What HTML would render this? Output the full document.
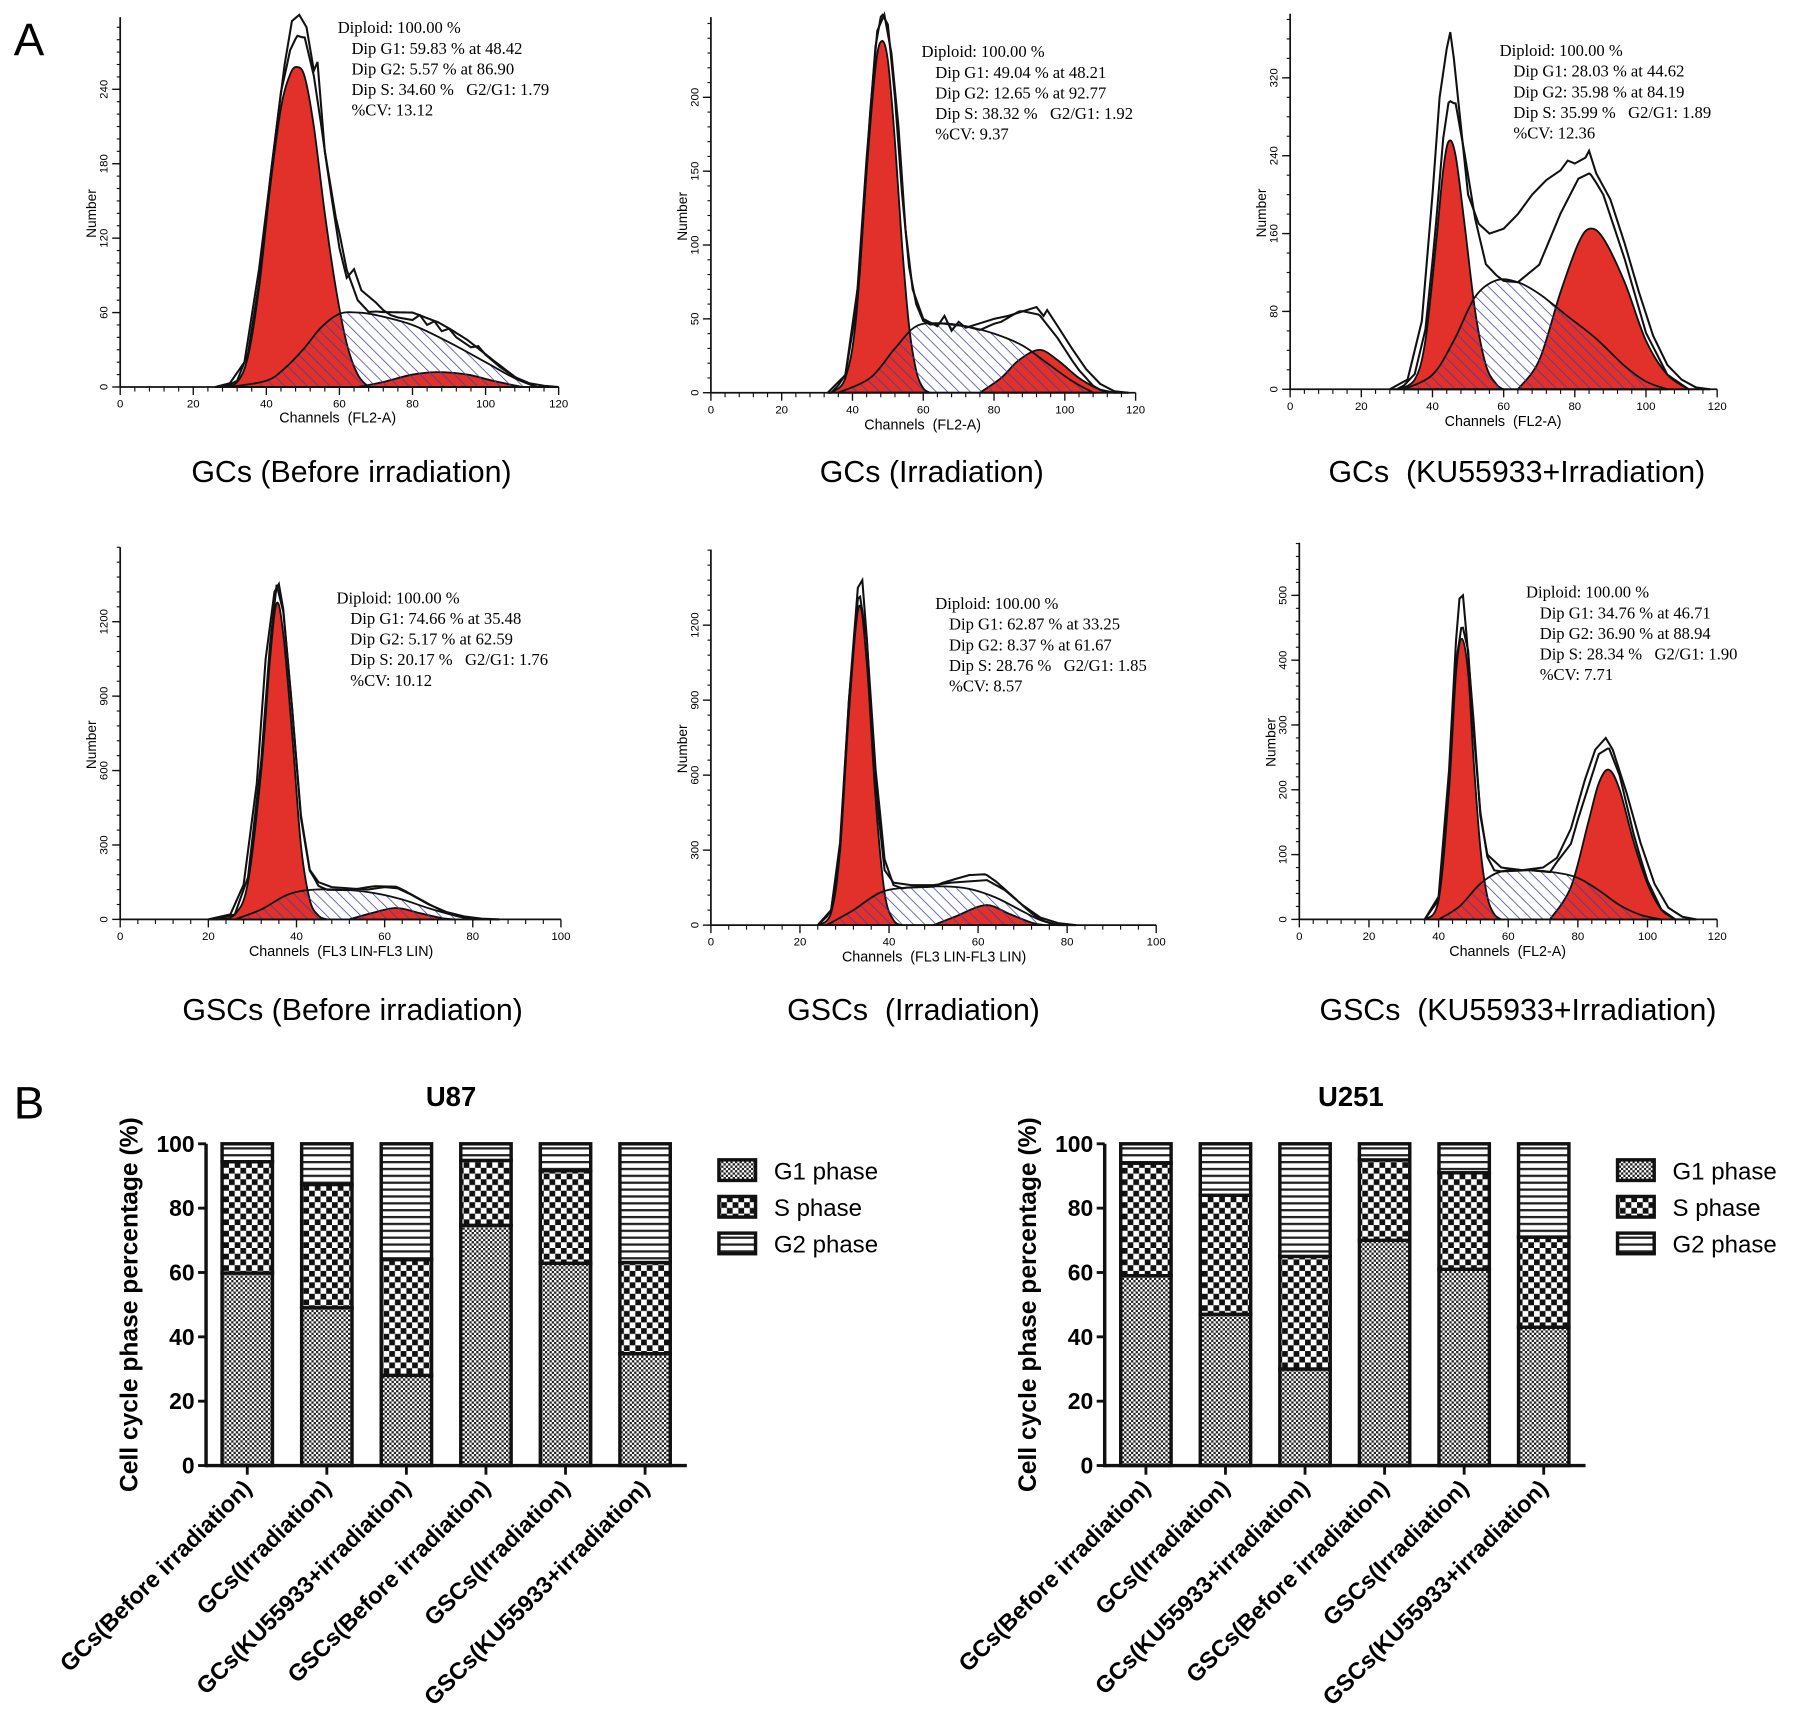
<!DOCTYPE html>
<html><head><meta charset="utf-8"><style>
html,body{margin:0;padding:0;background:#fff;}
svg{display:block;}
.pre{white-space:pre;}
</style></head><body>
<svg id="fig" width="1795" height="1722" viewBox="0 0 1568 1504" preserveAspectRatio="none" xmlns="http://www.w3.org/2000/svg">
<defs>
<pattern id="hatch" patternUnits="userSpaceOnUse" width="7" height="7" patternTransform="rotate(-45)">
<line x1="0" y1="0" x2="0" y2="7" stroke="#3d3f9c" stroke-width="1.3"/></pattern>
<pattern id="pG1" patternUnits="userSpaceOnUse" width="4" height="4">
<rect width="4" height="4" fill="#fff"/><rect width="2" height="2" fill="#222"/><rect x="2" y="2" width="2" height="2" fill="#222"/></pattern>
<pattern id="pS" patternUnits="userSpaceOnUse" width="10" height="10">
<rect width="10" height="10" fill="#fff"/><rect width="5" height="5" fill="#111"/><rect x="5" y="5" width="5" height="5" fill="#111"/></pattern>
<pattern id="pG2" patternUnits="userSpaceOnUse" width="6" height="6">
<rect width="6" height="6" fill="#fff"/><rect y="0" width="6" height="2" fill="#222"/></pattern>
</defs>
<text x="12" y="48" font-family="Liberation Sans, sans-serif" font-size="40">A</text>
<text x="12" y="977" font-family="Liberation Sans, sans-serif" font-size="40">B</text>
<g id="hists"></g>
<g id="bars"></g>
</svg>
<script>
// ---------- Histogram data (channel, count) ----------
const h1G1=[[28,0],[32,4],[35,25],[38,80],[41,160],[44,225],[46.5,252],[48.4,258],[50.5,250],[53,210],[56,140],[59,80],[62,35],[65,10],[68,0]];
const h1S=[[30,0],[40,5],[45,15],[50,30],[55,48],[60,59],[65,60],[70,58],[80,50],[90,36],[100,20],[108,7],[114,0]];
const h1G2=[[65,0],[72,4],[80,10],[87,12],[95,10],[102,5],[110,0]];
const h1Data=[[26,0],[30,3],[34,20],[38,95],[42,190],[45,260],[47,295],[49,300],[51,290],[53,255],[54,262],[56,190],[58,150],[60,112],[62,88],[64,95],[66,78],[70,68],[72,62],[74,58],[76,56],[80,54],[82,58],[84,50],[86,53],[88,45],[90,47],[92,40],[96,32],[98,33],[100,26],[104,16],[108,8],[112,3],[116,1],[120,0]];

const h2G1=[[34,0],[38,10],[41,50],[44,150],[46.5,220],[48.2,238],[50,225],[52,170],[54,100],[56,45],[58,15],[60,3],[62,0]];
const h2S=[[36,0],[45,10],[52,30],[58,45],[65,47],[72,45],[80,40],[88,32],[95,20],[102,8],[108,0]];
const h2G2=[[76,0],[82,10],[87,22],[92.8,29],[98,22],[104,10],[110,2],[114,0]];
const h2Data=[[33,0],[38,12],[42,80],[45,190],[47,245],[49,256],[51,230],[53,180],[55,110],[57,70],[60,50],[64,45],[66,52],[68,42],[70,48],[72,44],[76,47],[80,50],[84,52],[88,55],[92,58],[94,52],[95,56],[98,45],[102,30],[106,16],[110,6],[114,1],[118,0]];

const h3G1=[[30,0],[35,10],[38,50],[41,150],[43,225],[44.6,255],[46.5,240],[49,170],[52,80],[55,25],[58,5],[60,0]];
const h3S=[[32,0],[40,15],[46,50],[52,95],[58,112],[64,110],[70,98],[78,75],[86,52],[94,24],[100,8],[106,0]];
const h3G2=[[64,0],[70,30],[76,100],[81,150],[84.2,165],[88,155],[94,110],[100,50],[106,15],[112,0]];
const h3Data=[[28,0],[33,10],[37,70],[40,200],[42,300],[44,350],[45,367],[46,340],[48,270],[50,200],[53,170],[56,160],[60,165],[64,180],[68,200],[72,215],[76,225],[78,235],[80,232],[83,238],[84,245],[86,222],[90,195],[94,150],[98,100],[102,55],[106,25],[110,10],[114,2],[118,0]];

const h4G1=[[22,0],[26,20],[29,150],[32,600],[34,1050],[35.5,1274],[37,1150],[39,750],[41,300],[43,80],[45,15],[47,0]];
const h4S=[[26,0],[32,40],[38,100],[44,120],[52,118],[58,105],[64,80],[70,45],[76,15],[80,0]];
const h4G2=[[52,0],[57,25],[62.6,46],[68,25],[73,5],[76,0]];
const h4Data=[[20,0],[25,20],[28,140],[31,550],[33,1050],[35,1320],[36,1352],[37,1250],[39,850],[41,420],[43,200],[45,150],[48,130],[52,125],[56,120],[60,130],[63,125],[66,100],[70,60],[74,30],[78,12],[82,3],[86,0]];

const h5G1=[[24,0],[27,50],[29,300],[31,850],[33.2,1273],[35,1050],[37,500],[39,130],[41,20],[43,0]];
const h5S=[[26,0],[32,60],[38,130],[44,150],[52,155],[58,145],[64,110],[70,55],[74,20],[78,0]];
const h5G2=[[50,0],[55,35],[61.7,80],[67,45],[72,10],[75,0]];
const h5Data=[[24,0],[27,60],[29,300],[31,900],[33,1350],[34,1380],[35,1150],[37,550],[39,220],[41,170],[45,160],[50,160],[54,170],[58,175],[62,180],[66,140],[70,80],[74,30],[78,8],[82,0]];

const h6G1=[[36,0],[40,30],[43,200],[45,380],[46.7,433],[48.5,380],[50,250],[52,110],[54,35],[56,8],[58,0]];
const h6S=[[40,0],[46,20],[52,55],[58,74],[66,76],[74,72],[80,64],[86,45],[92,22],[98,7],[104,0]];
const h6G2=[[72,0],[78,50],[83,150],[86,210],[88.9,231],[92,200],[96,120],[100,55],[104,15],[108,0]];
const h6Data=[[36,0],[40,35],[43,230],[45,430],[46,495],[47,500],[48,440],[50,310],[52,160],[54,100],[58,80],[64,76],[70,80],[74,95],[78,140],[82,215],[85,262],[88,280],[90,262],[94,195],[98,118],[102,55],[106,18],[110,4],[114,0]];

const h1Stats=["Diploid: 100.00 %","Dip G1: 59.83 % at 48.42","Dip G2: 5.57 % at 86.90","Dip S: 34.60 %   G2/G1: 1.79","%CV: 13.12"];
const h2Stats=["Diploid: 100.00 %","Dip G1: 49.04 % at 48.21","Dip G2: 12.65 % at 92.77","Dip S: 38.32 %   G2/G1: 1.92","%CV: 9.37"];
const h3Stats=["Diploid: 100.00 %","Dip G1: 28.03 % at 44.62","Dip G2: 35.98 % at 84.19","Dip S: 35.99 %   G2/G1: 1.89","%CV: 12.36"];
const h4Stats=["Diploid: 100.00 %","Dip G1: 74.66 % at 35.48","Dip G2: 5.17 % at 62.59","Dip S: 20.17 %   G2/G1: 1.76","%CV: 10.12"];
const h5Stats=["Diploid: 100.00 %","Dip G1: 62.87 % at 33.25","Dip G2: 8.37 % at 61.67","Dip S: 28.76 %   G2/G1: 1.85","%CV: 8.57"];
const h6Stats=["Diploid: 100.00 %","Dip G1: 34.76 % at 46.71","Dip G2: 36.90 % at 88.94","Dip S: 28.34 %   G2/G1: 1.90","%CV: 7.71"];

// ---------- Bar chart data ----------
const barCategories=["GCs(Before irradiation)","GCs(Irradiation)","GCs(KU55933+irradiation)","GSCs(Before irradiation)","GSCs(Irradiation)","GSCs(KU55933+irradiation)"];
const u87G1=[59.83,49.04,28.03,74.66,62.87,34.76];
const u87S=[34.60,38.32,35.99,20.17,28.76,28.34];
const u87G2=[5.57,12.64,35.98,5.17,8.37,36.90];
const u251G1=[59,47,30,70,61,43];
const u251S=[35,37,35,25,30,28];
const u251G2=[6,16,35,5,9,29];
const barYTicks=[0,20,40,60,80,100];
const legendLabels=["G1 phase","S phase","G2 phase"];

const NS="http://www.w3.org/2000/svg";
function mk(tag,attrs,parent){const e=document.createElementNS(NS,tag);for(const k in attrs)e.setAttribute(k,attrs[k]);if(parent)parent.appendChild(e);return e;}
function interp(arr,x){if(x<=arr[0][0]||x>=arr[arr.length-1][0])return 0;for(let i=1;i<arr.length;i++){if(x<=arr[i][0]){const a=arr[i-1],b=arr[i];return a[1]+(b[1]-a[1])*(x-a[0])/(b[0]-a[0]);}}return 0;}
function smoothPath(pts){let d="M"+pts[0][0]+","+pts[0][1];for(let i=0;i<pts.length-1;i++){const p0=pts[i-1]||pts[i],p1=pts[i],p2=pts[i+1],p3=pts[i+2]||p2;const c1x=p1[0]+(p2[0]-p0[0])/6,c1y=p1[1]+(p2[1]-p0[1])/6,c2x=p2[0]-(p3[0]-p1[0])/6,c2y=p2[1]-(p3[1]-p1[1])/6;d+=" C"+c1x+","+c1y+" "+c2x+","+c2y+" "+p2[0]+","+p2[1];}return d;}

const panels=[
 {g1:h1G1,s:h1S,g2:h1G2,data:h1Data,stats:h1Stats,x0:105,x1:488,xmax:120,yb:338,top:15,ppu:65/60,yt:[0,60,120,180,240],ydiv:6,xlab:"Channels  (FL2-A)",xlx:295,xly:369,sx:295,sy:29,title:"GCs (Before irradiation)",tx:307,ty:421,name:"gcs-before"},
 {g1:h2G1,s:h2S,g2:h2G2,data:h2Data,stats:h2Stats,x0:621,x1:992,xmax:120,yb:343,top:15,ppu:64.5/50,yt:[0,50,100,150,200],ydiv:5,xlab:"Channels  (FL2-A)",xlx:806,xly:375,sx:805,sy:50,title:"GCs (Irradiation)",tx:814,ty:421,name:"gcs-irr"},
 {g1:h3G1,s:h3S,g2:h3G2,data:h3Data,stats:h3Stats,x0:1127,x1:1500,xmax:120,yb:340,top:12,ppu:68/80,yt:[0,80,160,240,320],ydiv:4,xlab:"Channels  (FL2-A)",xlx:1313,xly:372,sx:1310,sy:49,title:"GCs  (KU55933+Irradiation)",tx:1325,ty:421,name:"gcs-ku"},
 {g1:h4G1,s:h4S,g2:h4G2,data:h4Data,stats:h4Stats,x0:105,x1:490,xmax:100,yb:803,top:478,ppu:65/300,yt:[0,300,600,900,1200],ydiv:5,xlab:"Channels  (FL3 LIN-FL3 LIN)",xlx:298,xly:835,sx:294,sy:527,title:"GSCs (Before irradiation)",tx:308,ty:891,name:"gscs-before"},
 {g1:h5G1,s:h5S,g2:h5G2,data:h5Data,stats:h5Stats,x0:621,x1:1010,xmax:100,yb:808,top:480,ppu:65.5/300,yt:[0,300,600,900,1200],ydiv:5,xlab:"Channels  (FL3 LIN-FL3 LIN)",xlx:816,xly:840,sx:817,sy:532,title:"GSCs  (Irradiation)",tx:798,ty:891,name:"gscs-irr"},
 {g1:h6G1,s:h6S,g2:h6G2,data:h6Data,stats:h6Stats,x0:1135,x1:1500,xmax:120,yb:803,top:474,ppu:56.6/100,yt:[0,100,200,300,400,500],ydiv:5,xlab:"Channels  (FL2-A)",xlx:1317,xly:835,sx:1333,sy:522,title:"GSCs  (KU55933+Irradiation)",tx:1326,ty:891,name:"gscs-ku"}
];
const H=document.getElementById('hists');
panels.forEach(p=>{
 const g=mk('g',{},H);
 
 
 const X=c=>p.x0+(p.x1-p.x0)*c/p.xmax, Y=v=>p.yb-v*p.ppu;
 const comp=(arr,fill,nm)=>{const pts=arr.map(a=>[X(a[0]),Y(a[1])]);const d=smoothPath(pts)+" L"+pts[pts.length-1][0]+","+p.yb+" L"+pts[0][0]+","+p.yb+" Z";const e=mk('path',{d:d,fill:fill,stroke:"#111","stroke-width":1.6},g);return e;};
 comp(p.g1,"#e2302b",'g1-peak');
 comp(p.g2,"#e2302b",'g2-peak');
 comp(p.s,"url(#hatch)",'s-phase');
 const fit=[];for(let c=p.data[0][0];c<=p.data[p.data.length-1][0];c+=0.5){fit.push([X(c),Y(interp(p.g1,c)+interp(p.s,c)+interp(p.g2,c))]);}
 const fl=mk('path',{d:"M"+fit.map(q=>q.join(",")).join(" L"),fill:"none",stroke:"#111","stroke-width":1.8},g);
 
 const dl=mk('path',{d:"M"+p.data.map(a=>X(a[0])+","+Y(a[1])).join(" L"),fill:"none",stroke:"#111","stroke-width":1.8},g);
 
 mk('line',{x1:p.x0,y1:p.yb,x2:p.x1,y2:p.yb,stroke:"#111","stroke-width":1.5},g);
 mk('line',{x1:p.x0,y1:p.yb,x2:p.x0,y2:p.top,stroke:"#111","stroke-width":1.5},g);
 for(let c=0;c<=p.xmax;c+=4){if(c%20===0)continue;mk('line',{x1:X(c),y1:p.yb,x2:X(c),y2:p.yb+4,stroke:"#111","stroke-width":1},g);}
 for(let c=0;c<=p.xmax;c+=20){mk('line',{x1:X(c),y1:p.yb,x2:X(c),y2:p.yb+7,stroke:"#111","stroke-width":1.2},g);
  const t=mk('text',{x:X(c),y:p.yb+18,"text-anchor":"middle","font-family":"Liberation Sans, sans-serif","font-size":10},g);t.textContent=c;}
 const step=p.yt[1]-p.yt[0];
 for(let v=0;Y(v)>=p.top;v+=step/p.ydiv){mk('line',{x1:p.x0-3,y1:Y(v),x2:p.x0,y2:Y(v),stroke:"#111","stroke-width":1},g);}
 p.yt.forEach(v=>{mk('line',{x1:p.x0-7,y1:Y(v),x2:p.x0,y2:Y(v),stroke:"#111","stroke-width":1.2},g);
  const t=mk('text',{x:0,y:0,transform:"translate("+(p.x0-11)+","+Y(v)+") rotate(-90)","text-anchor":"middle","font-family":"Liberation Sans, sans-serif","font-size":10},g);t.textContent=v;});
 const yl=mk('text',{transform:"translate("+(p.x0-21)+","+((p.yb+p.top)/2+10)+") rotate(-90)","text-anchor":"middle","font-family":"Liberation Sans, sans-serif","font-size":12},g);yl.textContent="Number";
 
 const xl=mk('text',{x:p.xlx,y:p.xly,"text-anchor":"middle","font-family":"Liberation Sans, sans-serif","font-size":12.5,"class":"pre"},g);xl.textContent=p.xlab;
 
 p.stats.forEach((s,i)=>{const t=mk('text',{x:p.sx+(i?12:0),y:p.sy+i*18,"font-family":"Liberation Serif, serif","font-size":14.5,"class":"pre"},g);t.textContent=s;
  });
 const tt=mk('text',{x:p.tx,y:p.ty,"text-anchor":"middle","font-family":"Liberation Sans, sans-serif","font-size":26.5,"class":"pre"},g);tt.textContent=p.title;
 
});

// ---------- Stacked bars ----------
const B=document.getElementById('bars');
function barChart(cfg){
 const g=mk('g',{},B);
 
 
 const Y=v=>cfg.yb-(cfg.yb-cfg.yt)*v/100;
 const X=i=>cfg.x0+36+i*69.5;
 const bw=44;
 const tl=mk('text',{x:cfg.tx,y:966,"text-anchor":"middle","font-family":"Liberation Sans, sans-serif","font-size":24,"font-weight":"bold"},g);tl.textContent=cfg.title;
 
 barCategories.forEach((c,i)=>{
  const segs=[[cfg.g1[i],"url(#pG1)"],[cfg.s[i],"url(#pS)"],[cfg.g2[i],"url(#pG2)"]];let base=0;
  segs.forEach((sg,k)=>{const r=mk('rect',{x:X(i)-bw/2,y:Y(base+sg[0]),width:bw,height:Y(base)-Y(base+sg[0]),fill:sg[1],stroke:"#111","stroke-width":3},g);
   base+=sg[0];});
  mk('line',{x1:X(i),y1:cfg.yb,x2:X(i),y2:cfg.yb+8,stroke:"#111","stroke-width":2.5},g);
  const t=mk('text',{transform:"translate("+(X(i)+5)+","+(cfg.yb+21)+") rotate(-45)","text-anchor":"end","font-family":"Liberation Sans, sans-serif","font-size":20.5,"font-weight":"bold"},g);t.textContent=c;
  
 });
 mk('line',{x1:cfg.x0,y1:cfg.yb,x2:cfg.x0+420,y2:cfg.yb,stroke:"#111","stroke-width":3},g);
 mk('line',{x1:cfg.x0,y1:cfg.yb+1.5,x2:cfg.x0,y2:cfg.yt,stroke:"#111","stroke-width":3},g);
 barYTicks.forEach(v=>{mk('line',{x1:cfg.x0-7,y1:Y(v),x2:cfg.x0,y2:Y(v),stroke:"#111","stroke-width":2.5},g);
  const t=mk('text',{x:cfg.x0-10,y:Y(v)+7,"text-anchor":"end","font-family":"Liberation Sans, sans-serif","font-size":20,"font-weight":"bold"},g);t.textContent=v;});
 const yl=mk('text',{transform:"translate("+(cfg.x0-60)+","+Y(50)+") rotate(-90)","text-anchor":"middle","font-family":"Liberation Sans, sans-serif","font-size":21.5,"font-weight":"bold"},g);yl.textContent="Cell cycle phase percentage (%)";
 
 ["url(#pG1)","url(#pS)","url(#pG2)"].forEach((f,k)=>{
  const r=mk('rect',{x:cfg.lx,y:1013+k*32,width:32,height:18,fill:f,stroke:"#111","stroke-width":3},g);
  
  const t=mk('text',{x:cfg.lx+48,y:1030+k*32,"font-family":"Liberation Sans, sans-serif","font-size":21},g);t.textContent=legendLabels[k];
  
 });
}
barChart({title:"U87",x0:180,yb:1280,yt:999,tx:394,lx:628,g1:u87G1,s:u87S,g2:u87G2});
barChart({title:"U251",x0:965,yb:1280,yt:999,tx:1180,lx:1413,g1:u251G1,s:u251S,g2:u251G2});
</script>
</body></html>
